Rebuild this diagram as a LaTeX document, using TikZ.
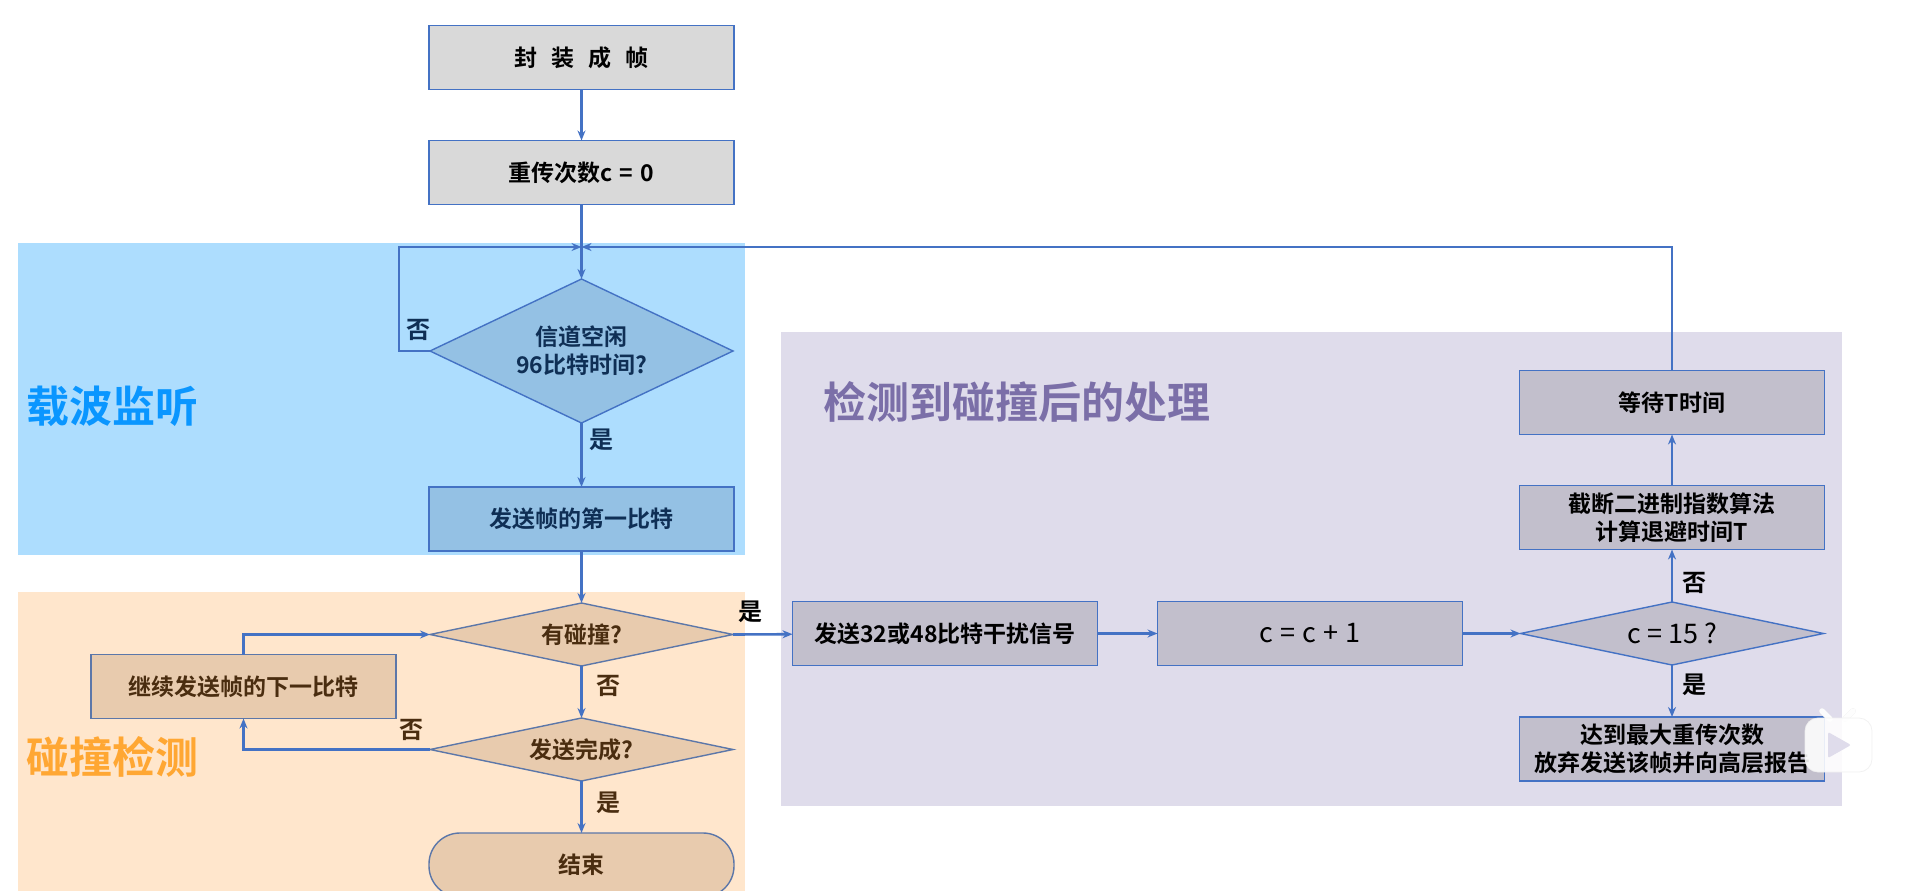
\documentclass[tikz,border=0pt]{standalone}
\usepackage{fontspec}
\usepackage{xcolor}
\setmainfont{Noto Sans CJK SC}[BoldFont={Noto Sans CJK SC Bold}]
\usetikzlibrary{arrows.meta,positioning,shapes.geometric}
\definecolor{accent}{HTML}{4472C4}
\definecolor{listenbg}{HTML}{ADDDFE}
\definecolor{listenfill}{HTML}{94C1E4}
\definecolor{detectbg}{HTML}{FFE6CC}
\definecolor{detectfill}{HTML}{E8CBAE}
\definecolor{afterbg}{HTML}{DFDCEB}
\definecolor{afterfill}{HTML}{C2BFCC}
\definecolor{basefill}{HTML}{D9D9D9}
\definecolor{navy}{HTML}{0F2F55}
\definecolor{umber}{HTML}{4A2D10}
\definecolor{listenhead}{HTML}{0A96FF}
\definecolor{detecthead}{HTML}{FFA733}
\definecolor{afterhead}{HTML}{7B6FA8}

\begin{document}
\begin{tikzpicture}[
  x=1pt, y=-1pt,
  box/.style={draw=accent, line width=1.4pt, outer sep=0pt, inner sep=0pt, align=center, minimum width=305pt, minimum height=64pt, font=\fontsize{23}{28}\selectfont\bfseries},
  flat/.style={box, shape=diamond, shape aspect=4.8, minimum width=303pt, minimum height=63pt},
  tall/.style={box, shape=diamond, shape aspect=2.1, minimum width=303pt, minimum height=144pt},
  stadium/.style={box, rounded corners=31pt},
  warm/.style={fill=detectfill, draw=accent!60!gray, text=umber},
  sum/.style={font=\fontsize{27}{32}\selectfont},
  region/.style={anchor=north west, outer sep=0pt, inner sep=0pt},
  zone/.style={anchor=west, font=\fontsize{43}{50}\selectfont\bfseries},
  tag/.style={font=\fontsize{24}{28}\selectfont\bfseries},
  arr/.style={-{Stealth[length=10pt,width=8pt]}, accent, line width=2.6pt}
]
\useasboundingbox (0,0) rectangle (1920,891);

% background regions
\node[region, fill=listenbg, minimum width=727pt, minimum height=312pt] (listen) at (18,243) {};
\node[region, fill=detectbg, minimum width=727pt, minimum height=299pt] (detect) at (18,592) {};
\node[region, fill=afterbg, minimum width=1061pt, minimum height=474pt] (after) at (781,332) {};

\node[zone, text=listenhead] at (23,406) {载波监听};
\node[zone, text=detecthead] at (23,757) {碰撞检测};
\node[zone, text=afterhead, font=\fontsize{43}{50}\selectfont\bfseries] at (820,402) {检测到碰撞后的处理};

% main column
\node[box, fill=basefill, text=black] (frame) at (581.5,57.5) {封\hspace{14pt}装\hspace{14pt}成\hspace{14pt}帧};
\node[box, fill=basefill, text=black, below=51pt of frame] (reset) {重传次数c\hspace{7pt}=\hspace{7pt}0};
\coordinate (merge) at (581.5,247);
\node[tall, fill=listenfill, text=navy] (idle) at (581.5,351) {信道空闲\\96比特时间?};
\node[box, fill=listenfill, text=navy, below=64pt of idle] (first) {发送帧的第一比特};
\node[flat, warm, below=52pt of first] (hit) {有碰撞?};
\node[flat, warm, below=52pt of hit] (done) {发送完成?};
\node[stadium, warm, below=52pt of done] (finish) {结束};
\node[box, warm] (next) at (243.5,686.5) {继续发送帧的下一比特};
\coordinate (nextup) at (next.north |- hit);
\coordinate (nextdown) at (next.south |- done);
\coordinate (loop) at (399,247);
\coordinate (loopdown) at (399,351);

% handling row and column
\node[box, fill=afterfill, text=black] (jam) at (945,633.5) {发送32或48比特干扰信号};
\node[box, sum, fill=afterfill, text=black, right=60pt of jam] (inc) {c\hspace{7pt}=\hspace{7pt}c\hspace{7pt}+\hspace{7pt}1};
\node[flat, sum, fill=afterfill, text=black, right=58pt of inc] (limit) {c = 15 ?};
\node[box, fill=afterfill, text=black] (giveup) at (limit.center |- 0,749) {达到最大重传次数\\放弃发送该帧并向高层报告};
\node[box, fill=afterfill, text=black] (backoff) at (limit.center |- 0,517.5) {截断二进制指数算法\\计算退避时间T};
\node[box, fill=afterfill, text=black, above=51pt of backoff] (wait) {等待T时间};
\coordinate (back) at (wait.north |- merge);

\draw[arr] (frame) -- (reset);
\draw[arr] (reset) -- (idle);
\draw[arr] (idle.west) -- (loopdown) -- (loop) -- (merge);
\draw[arr] (wait.north) -- (back) -- (merge);
\draw[arr] (idle) -- (first);
\draw[arr] (first) -- (hit);
\draw[arr] (hit) -- (done);
\draw[arr] (done) -- (finish);
\draw[arr] (done.west) -- (nextdown) -- (next.south);
\draw[arr] (next.north) -- (nextup) -- (hit.west);
\draw[arr] (hit.east) -- (jam);
\draw[arr] (jam) -- (inc);
\draw[arr] (inc) -- (limit);
\draw[arr] (limit) -- (giveup);
\draw[arr] (limit) -- (backoff);
\draw[arr] (backoff) -- (wait);

% branch labels
\node[tag, text=navy] at (418,330) {否};
\node[tag, text=navy] at (601,440) {是};
\node[tag, text=black] at (750,612) {是};
\node[tag, text=umber] at (608,686) {否};
\node[tag, text=umber] at (411,730) {否};
\node[tag, text=umber] at (608,803) {是};
\node[tag, text=black] at (1694,583) {否};
\node[tag, text=black] at (1694,685) {是};

% player badge
\begin{scope}[opacity=.88]
\draw[black!6, line width=5.8pt, line cap=round] (1822,711) -- (1830,719);
\draw[black!6, line width=5.8pt, line cap=round] (1853,711) -- (1845,719);
\draw[white, line width=5pt, line cap=round] (1822,711) -- (1830,719);
\draw[white, line width=5pt, line cap=round] (1853,711) -- (1845,719);
\fill[white, draw=black!6, line width=.8pt, rounded corners=13pt] (1805,718) rectangle (1872,772);
\end{scope}
\fill[afterbg, rounded corners=2pt] (1828,732) -- (1851,745) -- (1828,758) -- cycle;
\end{tikzpicture}
\end{document}
